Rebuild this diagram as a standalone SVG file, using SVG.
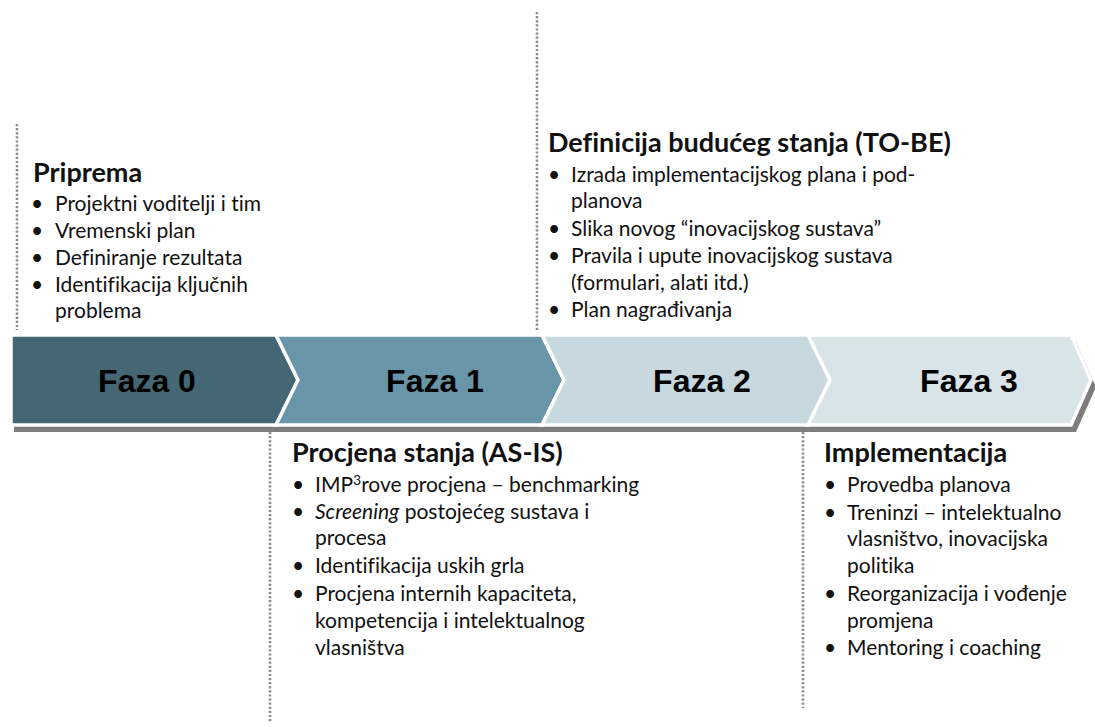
<svg xmlns="http://www.w3.org/2000/svg" width="1095" height="727" viewBox="0 0 1095 727">
<style>
  .dot { stroke: #8c8c8c; stroke-width: 2.6; stroke-dasharray: 2.2 1.9; fill: none; }
  .chev { stroke: #ffffff; stroke-width: 3.5; stroke-linejoin: miter; }
  .faza { font-family: "Liberation Sans", Arial, sans-serif; font-weight: bold; font-size: 32px; fill: #000; text-anchor: middle; }
  .head { font-family: Lato, "Open Sans", sans-serif; font-weight: bold; font-size: 27px; fill: #111; font-variant-ligatures: none; }
  .txt { font-family: Lato, "Open Sans", sans-serif; font-size: 21px; fill: #111; font-variant-ligatures: none; }
</style>
<rect width="1095" height="727" fill="#ffffff"/>

<g id="connectors">
  <line class="dot" x1="17" y1="124" x2="17" y2="330"/>
  <line class="dot" x1="537" y1="12" x2="537" y2="330"/>
  <line class="dot" x1="270" y1="432" x2="270" y2="723"/>
  <line class="dot" x1="803" y1="432" x2="803" y2="708"/>
</g>

<g id="band-shadow">
  <path d="M14,342 L1076,342 L1096,387 L1076,432 L14,432 Z" fill="#7d7d7d"/>
</g>

<g id="faza0">
  <path class="chev" d="M11,335 L276,335 L298,380 L276,425 L11,425 Z" fill="#456774"/>
  <text class="faza" x="147" y="392">Faza 0</text>
</g>
<g id="faza1">
  <path class="chev" d="M276,335 L542,335 L564,380 L542,425 L276,425 L298,380 Z" fill="#6895a8"/>
  <text class="faza" x="435" y="392">Faza 1</text>
</g>
<g id="faza2">
  <path class="chev" d="M542,335 L808,335 L830,380 L808,425 L542,425 L564,380 Z" fill="#c7d8df"/>
  <text class="faza" x="702" y="392">Faza 2</text>
</g>
<g id="faza3">
  <path class="chev" d="M808,335 L1071,335 L1091,380 L1071,425 L808,425 L830,380 Z" fill="#d9e4e9"/>
  <text class="faza" x="969" y="392">Faza 3</text>
</g>

<g id="priprema">
  <text class="head" x="33" y="182">Priprema</text>
  <g class="txt">
    <text x="31" y="211">•</text><text x="55" y="211">Projektni voditelji i tim</text>
    <text x="31" y="238">•</text><text x="55" y="238">Vremenski plan</text>
    <text x="31" y="265">•</text><text x="55" y="265">Definiranje rezultata</text>
    <text x="31" y="292">•</text><text x="55" y="292">Identifikacija ključnih</text>
    <text x="55" y="318">problema</text>
  </g>
</g>

<g id="to-be">
  <text class="head" x="548" y="152">Definicija budućeg stanja (TO-BE)</text>
  <g class="txt">
    <text x="548" y="182">•</text><text x="571" y="182">Izrada implementacijskog plana i pod-</text>
    <text x="571" y="208">planova</text>
    <text x="548" y="236">•</text><text x="571" y="236">Slika novog “inovacijskog sustava”</text>
    <text x="548" y="263">•</text><text x="571" y="263">Pravila i upute inovacijskog sustava</text>
    <text x="571" y="290">(formulari, alati itd.)</text>
    <text x="548" y="317">•</text><text x="571" y="317">Plan nagrađivanja</text>
  </g>
</g>

<g id="as-is">
  <text class="head" x="292" y="462">Procjena stanja (AS-IS)</text>
  <g class="txt">
    <text x="292" y="492">•</text><text x="315" y="492">IMP<tspan font-size="14" dy="-7">3</tspan><tspan dy="7">rove procjena – benchmarking</tspan></text>
    <text x="292" y="519">•</text><text x="315" y="519"><tspan font-style="italic">Screening</tspan> postojećeg sustava i</text>
    <text x="315" y="545">procesa</text>
    <text x="292" y="573">•</text><text x="315" y="573">Identifikacija uskih grla</text>
    <text x="292" y="601">•</text><text x="315" y="601">Procjena internih kapaciteta,</text>
    <text x="315" y="628">kompetencija i intelektualnog</text>
    <text x="315" y="655">vlasništva</text>
  </g>
</g>

<g id="implementacija">
  <text class="head" x="824" y="462">Implementacija</text>
  <g class="txt">
    <text x="824" y="492">•</text><text x="847" y="492">Provedba planova</text>
    <text x="824" y="520">•</text><text x="847" y="520">Treninzi – intelektualno</text>
    <text x="847" y="546">vlasništvo, inovacijska</text>
    <text x="847" y="573">politika</text>
    <text x="824" y="601">•</text><text x="847" y="601">Reorganizacija i vođenje</text>
    <text x="847" y="628">promjena</text>
    <text x="824" y="655">•</text><text x="847" y="655">Mentoring i coaching</text>
  </g>
</g>
</svg>
